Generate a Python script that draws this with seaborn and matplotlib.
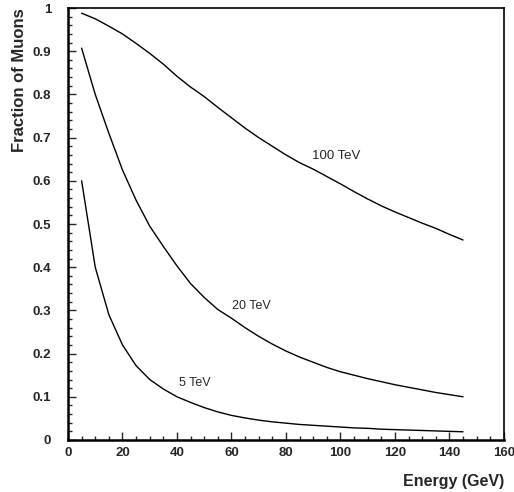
import numpy as np
import pandas as pd
import matplotlib
matplotlib.use('Agg')
import matplotlib.pyplot as plt
import seaborn as sns
from matplotlib.ticker import MultipleLocator

energy = [5, 10, 15, 20, 25, 30, 35, 40, 45, 50, 55, 60, 65, 70, 75,
          80, 85, 90, 95, 100, 105, 110, 115, 120, 125, 130, 135, 140, 145]

frac_100tev = [0.988, 0.975, 0.958, 0.940, 0.918, 0.895, 0.870, 0.842, 0.817, 0.795,
               0.770, 0.746, 0.722, 0.700, 0.680, 0.660, 0.642, 0.627, 0.610, 0.593,
               0.575, 0.558, 0.542, 0.528, 0.515, 0.502, 0.490, 0.476, 0.463]
frac_20tev = [0.907, 0.800, 0.710, 0.625, 0.555, 0.495, 0.448, 0.403, 0.362, 0.330,
              0.302, 0.282, 0.260, 0.240, 0.222, 0.206, 0.192, 0.180, 0.168, 0.158,
              0.150, 0.142, 0.135, 0.128, 0.122, 0.116, 0.110, 0.105, 0.100]
frac_5tev = [0.600, 0.400, 0.290, 0.220, 0.172, 0.140, 0.118, 0.100, 0.087, 0.075,
             0.065, 0.057, 0.051, 0.046, 0.042, 0.039, 0.036, 0.034, 0.032, 0.030,
             0.028, 0.027, 0.025, 0.024, 0.023, 0.022, 0.021, 0.020, 0.019]

curve_labels = ['100 TeV', '20 TeV', '5 TeV']
label_pos = [(98.5, 0.658), (67.4, 0.31), (46.5, 0.131)]
label_size = [9.5, 9, 9]

df = pd.DataFrame({
    'energy': energy * 3,
    'fraction': frac_100tev + frac_20tev + frac_5tev,
    'shower': [curve_labels[0]] * len(energy) + [curve_labels[1]] * len(energy) + [curve_labels[2]] * len(energy),
})

sns.set_style('ticks')
plt.rcParams['font.family'] = ['Liberation Sans', 'DejaVu Sans']

fig = plt.figure(figsize=(5.14, 4.92), dpi=100)
ax = fig.add_axes([0.1323, 0.1057, 0.848, 0.878])

sns.lineplot(data=df, x='energy', y='fraction', units='shower', estimator=None,
             color='black', linewidth=1.0, ax=ax, legend=False)

for lab, (lx, ly), fs in zip(curve_labels, label_pos, label_size):
    ax.text(lx, ly, lab, fontsize=fs, ha='center', va='center')

ax.set_xlim(0, 160)
ax.set_ylim(0, 1)
ax.xaxis.set_major_locator(MultipleLocator(20))
ax.xaxis.set_minor_locator(MultipleLocator(5))
ax.yaxis.set_minor_locator(MultipleLocator(0.02))
ax.set_yticks(np.arange(0, 1.01, 0.1))
ax.set_yticklabels(['0', '0.1', '0.2', '0.3', '0.4', '0.5', '0.6', '0.7', '0.8', '0.9', '1'])
ax.tick_params(which='major', direction='in', length=6, width=1, labelsize=9.5)
ax.tick_params(axis='x', which='major', pad=5)
ax.tick_params(axis='y', which='major', pad=12)
ax.tick_params(which='minor', direction='in', length=3, width=1)
for t in ax.get_xticklabels() + ax.get_yticklabels():
    t.set_fontweight('bold')

for side in ['top', 'right']:
    ax.spines[side].set_linewidth(1.2)
for side in ['left', 'bottom']:
    ax.spines[side].set_linewidth(1.8)
for s in ax.spines.values():
    s.set_color('black')

ax.set_xlabel('Energy (GeV)', fontsize=11.5, fontweight='bold', loc='right', labelpad=11)
ax.set_ylabel('Fraction of Muons', fontsize=12, fontweight='bold', loc='top', labelpad=4)

fig.savefig('out.png', dpi=100)
